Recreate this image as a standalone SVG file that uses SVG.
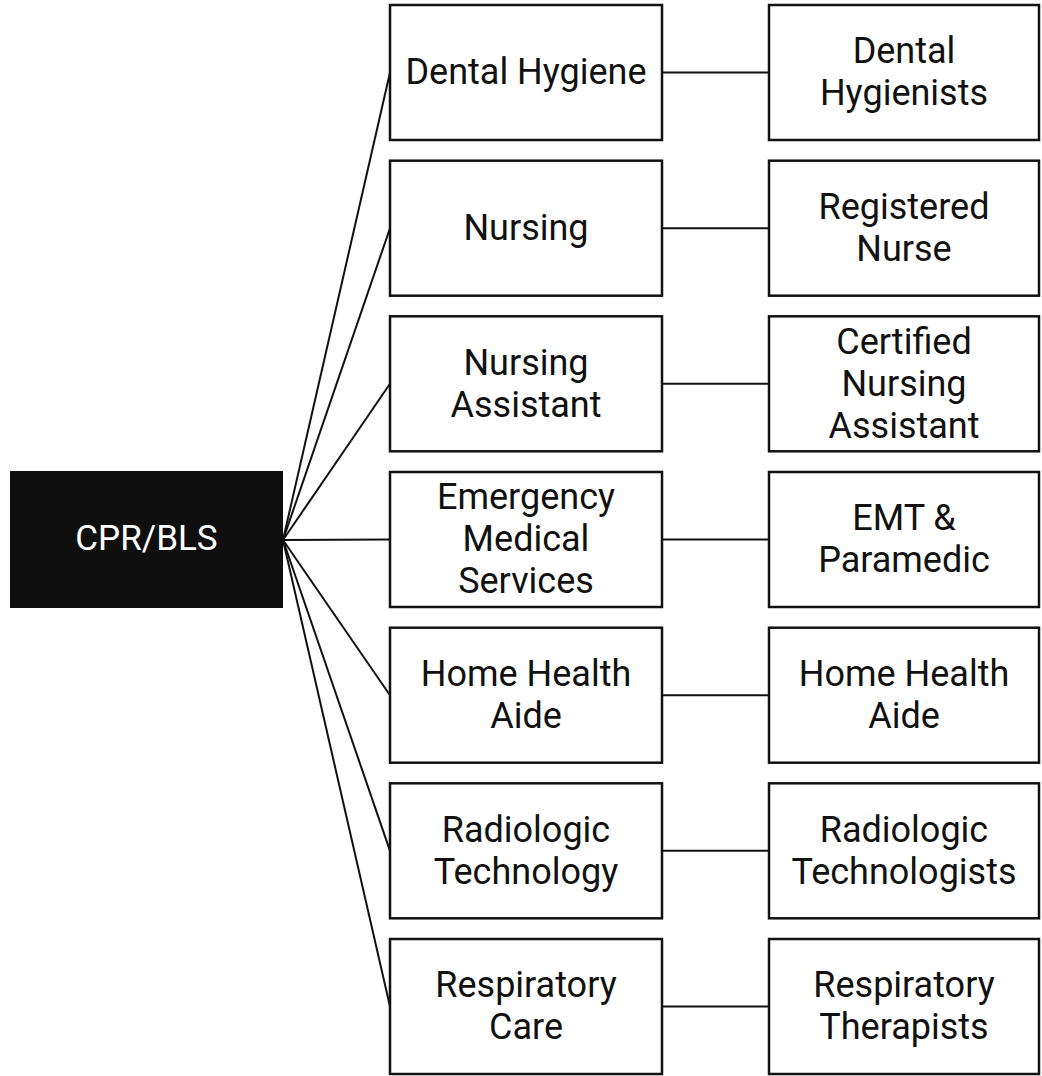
<svg xmlns="http://www.w3.org/2000/svg" width="1042" height="1076" viewBox="0 0 1042 1076">
<style>
.box{fill:#fff;stroke:#111;stroke-width:2.5}
.root{fill:#0f0f0f}
.t{font-family:Roboto,"Liberation Sans",sans-serif;font-size:36px;fill:#111;text-anchor:middle}
.tw{fill:#fff;font-size:35px}
.c{stroke:#111;stroke-width:2;fill:none}
</style>
<rect width="1042" height="1076" fill="#fff"/>
<g id="connectors">
<line class="c" x1="283" y1="540" x2="390" y2="72.5"/>
<line class="c" x1="283" y1="540" x2="390" y2="228.2"/>
<line class="c" x1="283" y1="540" x2="390" y2="383.8"/>
<line class="c" x1="283" y1="540" x2="390" y2="539.5"/>
<line class="c" x1="283" y1="540" x2="390" y2="695.2"/>
<line class="c" x1="283" y1="540" x2="390" y2="850.8"/>
<line class="c" x1="283" y1="540" x2="390" y2="1006.5"/>
<line class="c" x1="662" y1="72.5" x2="769" y2="72.5"/>
<line class="c" x1="662" y1="228.2" x2="769" y2="228.2"/>
<line class="c" x1="662" y1="383.8" x2="769" y2="383.8"/>
<line class="c" x1="662" y1="539.5" x2="769" y2="539.5"/>
<line class="c" x1="662" y1="695.2" x2="769" y2="695.2"/>
<line class="c" x1="662" y1="850.8" x2="769" y2="850.8"/>
<line class="c" x1="662" y1="1006.5" x2="769" y2="1006.5"/>
</g>
<g id="root"><rect class="root" x="10" y="471" width="273" height="137"/><text class="t tw" x="146.5" y="550">CPR/BLS</text></g>
<g id="m1"><rect class="box" x="390" y="5" width="272" height="135"/><text class="t" x="526" y="84.3">Dental Hygiene</text></g>
<g id="m2"><rect class="box" x="390" y="160.7" width="272" height="135"/><text class="t" x="526" y="240">Nursing</text></g>
<g id="m3"><rect class="box" x="390" y="316.3" width="272" height="135"/><text class="t" x="526" y="374.6">Nursing</text><text class="t" x="526" y="416.6">Assistant</text></g>
<g id="m4"><rect class="box" x="390" y="472" width="272" height="135"/><text class="t" x="526" y="509.3">Emergency</text><text class="t" x="526" y="551.3">Medical</text><text class="t" x="526" y="593.3">Services</text></g>
<g id="m5"><rect class="box" x="390" y="627.7" width="272" height="135"/><text class="t" x="526" y="686">Home Health</text><text class="t" x="526" y="728">Aide</text></g>
<g id="m6"><rect class="box" x="390" y="783.3" width="272" height="135"/><text class="t" x="526" y="841.6">Radiologic</text><text class="t" x="526" y="883.6">Technology</text></g>
<g id="m7"><rect class="box" x="390" y="939" width="272" height="135"/><text class="t" x="526" y="997.3">Respiratory</text><text class="t" x="526" y="1039.3">Care</text></g>
<g id="r1"><rect class="box" x="769" y="5" width="270" height="135"/><text class="t" x="904" y="63.3">Dental</text><text class="t" x="904" y="105.3">Hygienists</text></g>
<g id="r2"><rect class="box" x="769" y="160.7" width="270" height="135"/><text class="t" x="904" y="219">Registered</text><text class="t" x="904" y="261">Nurse</text></g>
<g id="r3"><rect class="box" x="769" y="316.3" width="270" height="135"/><text class="t" x="904" y="353.6">Certified</text><text class="t" x="904" y="395.6">Nursing</text><text class="t" x="904" y="437.6">Assistant</text></g>
<g id="r4"><rect class="box" x="769" y="472" width="270" height="135"/><text class="t" x="904" y="530.3">EMT &amp;</text><text class="t" x="904" y="572.3">Paramedic</text></g>
<g id="r5"><rect class="box" x="769" y="627.7" width="270" height="135"/><text class="t" x="904" y="686">Home Health</text><text class="t" x="904" y="728">Aide</text></g>
<g id="r6"><rect class="box" x="769" y="783.3" width="270" height="135"/><text class="t" x="904" y="841.6">Radiologic</text><text class="t" x="904" y="883.6">Technologists</text></g>
<g id="r7"><rect class="box" x="769" y="939" width="270" height="135"/><text class="t" x="904" y="997.3">Respiratory</text><text class="t" x="904" y="1039.3">Therapists</text></g>
</svg>
